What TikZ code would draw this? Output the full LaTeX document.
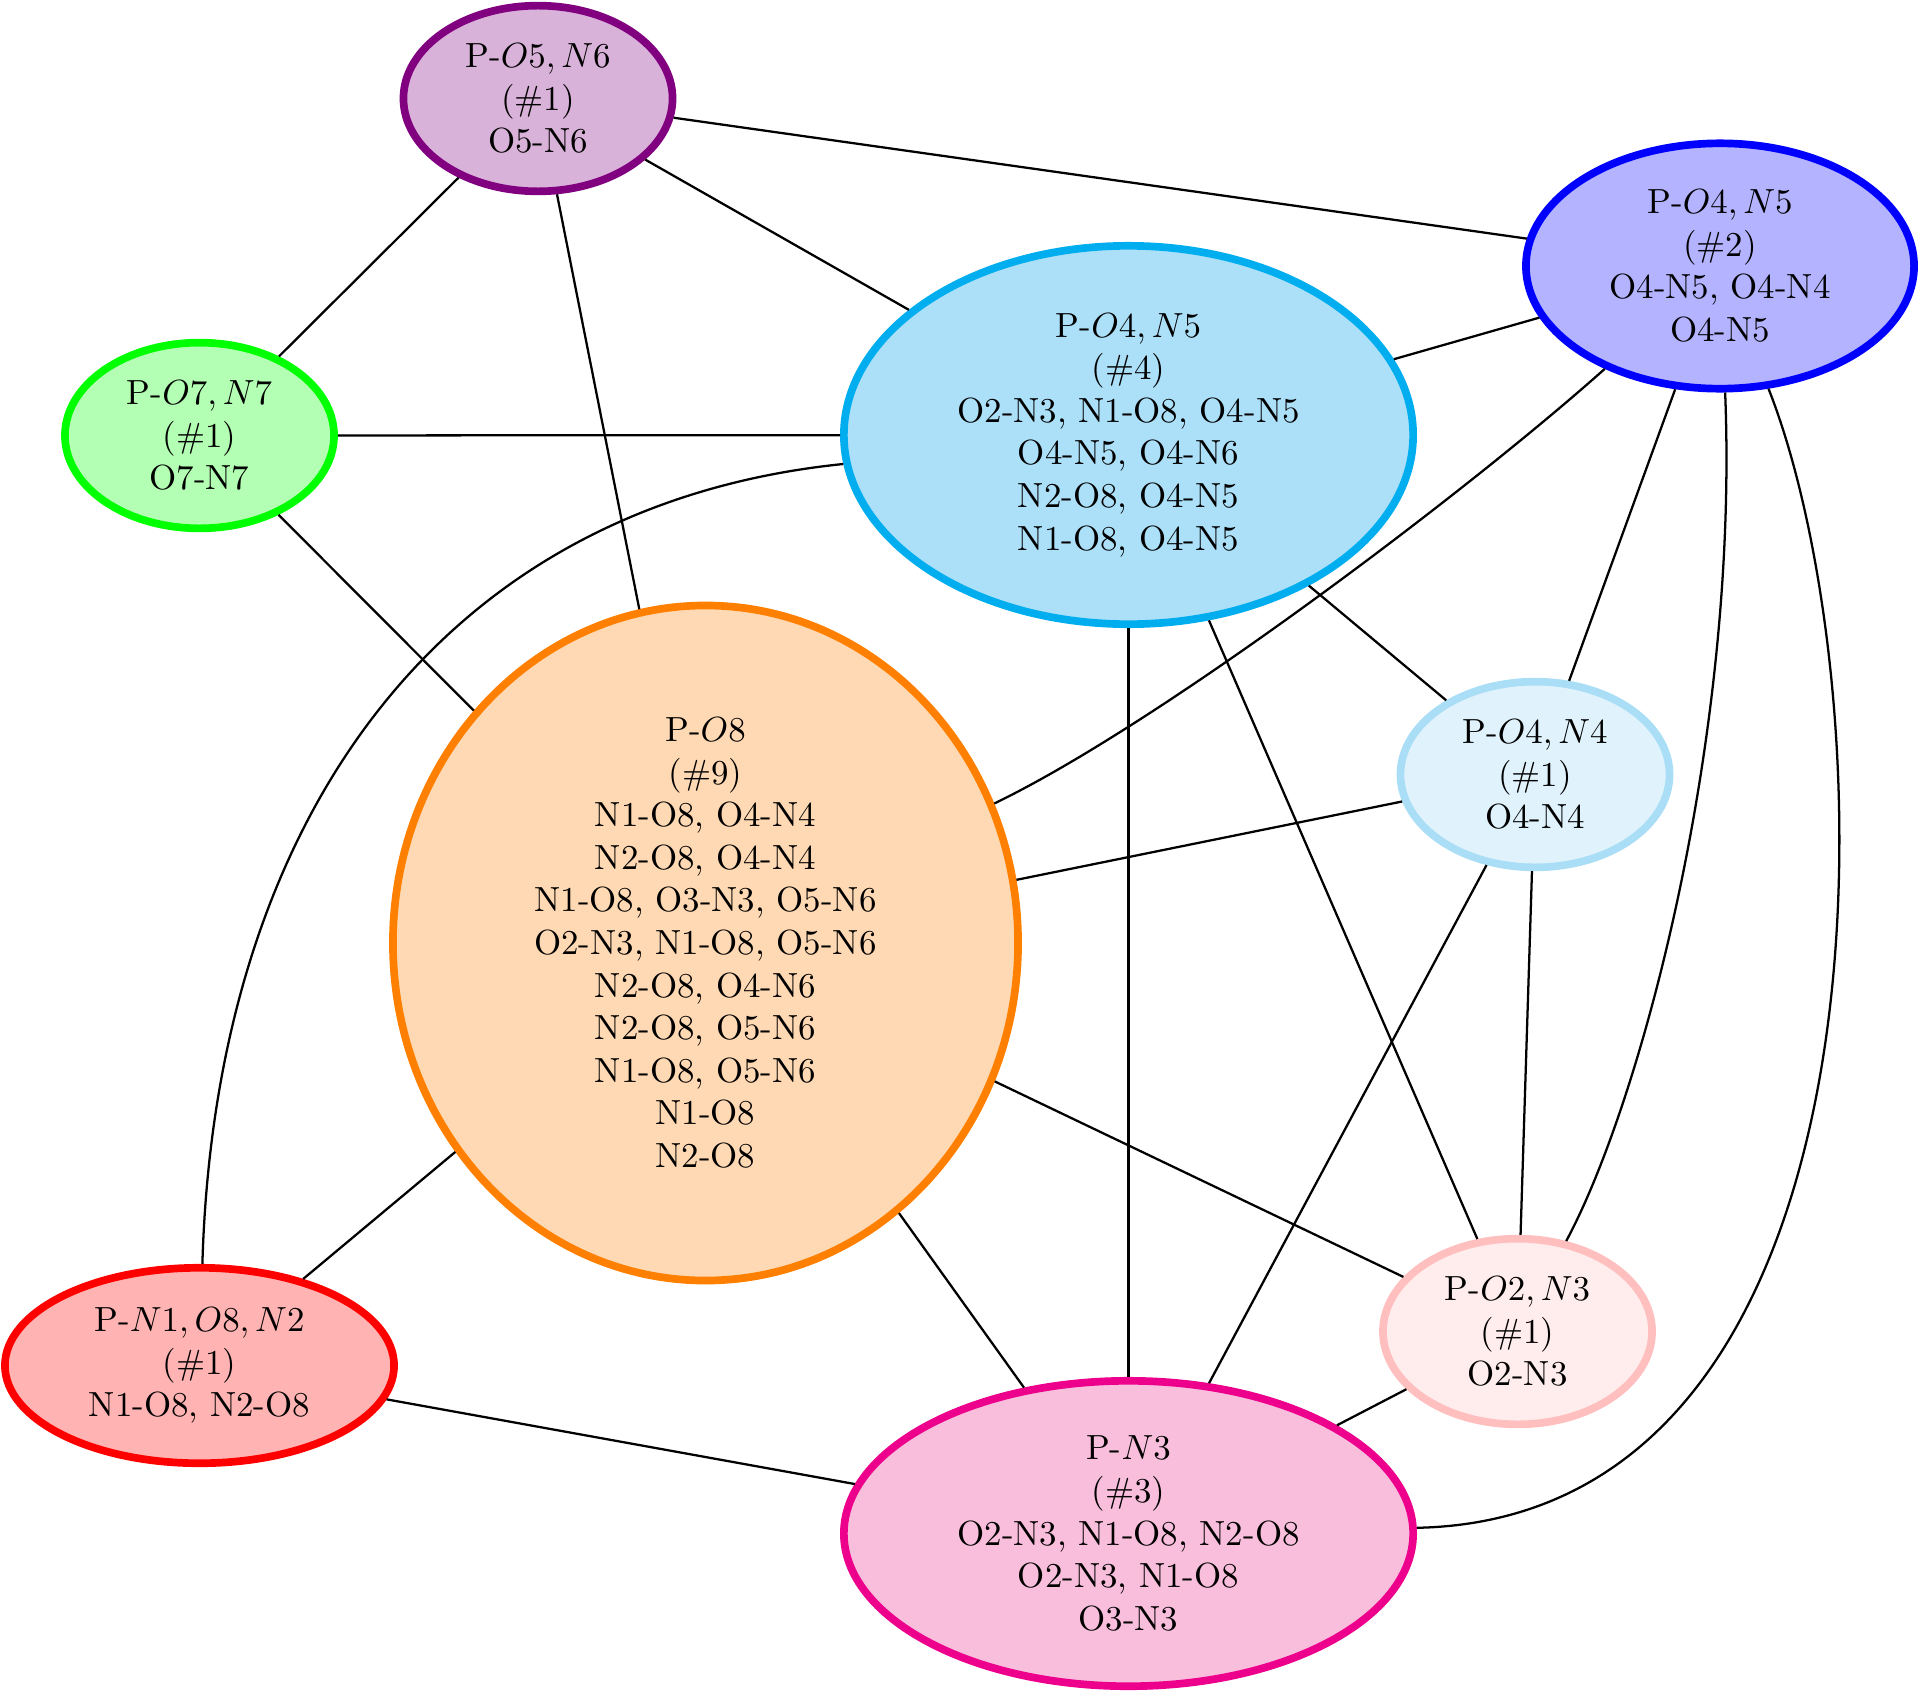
\documentclass[tikz,border=0pt]{standalone}
\usetikzlibrary{shapes.geometric}
\definecolor{cPurD}{RGB}{128,0,128}
\definecolor{cPurL}{RGB}{217,178,217}
\definecolor{cBluD}{RGB}{0,0,255}
\definecolor{cBluL}{RGB}{179,179,255}
\definecolor{cCyaD}{RGB}{0,174,239}
\definecolor{cCyaL}{RGB}{172,224,249}
\definecolor{cGreD}{RGB}{0,255,0}
\definecolor{cGreL}{RGB}{179,255,179}
\definecolor{cOraD}{RGB}{255,128,0}
\definecolor{cOraL}{RGB}{255,217,179}
\definecolor{cIceD}{RGB}{170,221,246}
\definecolor{cIceL}{RGB}{224,243,252}
\definecolor{cRedD}{RGB}{255,0,0}
\definecolor{cRedL}{RGB}{255,179,179}
\definecolor{cPinD}{RGB}{255,191,191}
\definecolor{cPinL}{RGB}{255,236,236}
\definecolor{cMagD}{RGB}{236,0,140}
\definecolor{cMagL}{RGB}{248,190,219}
\begin{document}
\begin{tikzpicture}[
  x=0.2865pt, y=-0.2865pt,
  blob/.style={ellipse, draw, line width=2.2pt, inner sep=0pt, align=center,
    font=\fontsize{10}{12.2}\selectfont},
  small/.style={blob, minimum width=77.1pt, minimum height=53.2pt},
  link/.style={line width=0.65pt, black}
]
\useasboundingbox (0,0) rectangle (1920,1693);

\node[small, draw=cPurD, fill=cPurL] (a) at (538,98.5) {P-$O5, N6$\\(\#1)\\O5-N6};
\node[blob, draw=cBluD, fill=cBluL, minimum width=111.2pt, minimum height=70.3pt] (b) at (1720,266)
  {P-$O4, N5$\\(\#2)\\O4-N5, O4-N4\\O4-N5};
\node[blob, draw=cCyaD, fill=cCyaL, minimum width=163.1pt, minimum height=108.4pt] (c) at (1128.5,435)
  {P-$O4, N5$\\(\#4)\\O2-N3, N1-O8, O4-N5\\O4-N5, O4-N6\\N2-O8, O4-N5\\N1-O8, O4-N5};
\node[small, draw=cGreD, fill=cGreL] (d) at (199.5,435.5) {P-$O7, N7$\\(\#1)\\O7-N7};
\node[blob, draw=cOraD, fill=cOraL, minimum width=179.1pt, minimum height=193.4pt] (e) at (705.5,943)
  {P-$O8$\\(\#9)\\N1-O8, O4-N4\\N2-O8, O4-N4\\N1-O8, O3-N3, O5-N6\\O2-N3, N1-O8, O5-N6\\N2-O8, O4-N6\\N2-O8, O5-N6\\N1-O8, O5-N6\\N1-O8\\N2-O8};
\node[small, draw=cIceD, fill=cIceL] (f) at (1535,774.5) {P-$O4, N4$\\(\#1)\\O4-N4};
\node[blob, draw=cRedD, fill=cRedL, minimum width=111.5pt, minimum height=56pt] (g) at (199.5,1365.5)
  {P-$N1, O8, N2$\\(\#1)\\N1-O8, N2-O8};
\node[small, draw=cPinD, fill=cPinL] (h) at (1517.5,1331.5) {P-$O2, N3$\\(\#1)\\O2-N3};
\node[blob, draw=cMagD, fill=cMagL, minimum width=163.1pt, minimum height=87.5pt] (i) at (1128.5,1533.5)
  {P-$N3$\\(\#3)\\O2-N3, N1-O8, N2-O8\\O2-N3, N1-O8\\O3-N3};

\draw[link] (a) -- (b);
\draw[link] (a) -- (c);
\draw[link] (a) -- (d);
\draw[link] (a) -- (e);
\draw[link] (d) -- (c);
\draw[link] (d) -- (e);
\draw[link] (c) -- (b);
\draw[link] (b) -- (f);
\draw[link] (c) -- (i);
\draw[link] (c) -- (f);
\draw[link] (c) -- (h);
\draw[link] (e) -- (f);
\draw[link] (e) -- (h);
\draw[link] (e) -- (g);
\draw[link] (e) -- (i);
\draw[link] (f) -- (i);
\draw[link] (f) -- (h);
\draw[link] (g) -- (i);
\draw[link] (h) -- (i);
\draw[link] (b) .. controls (1469,490) and (1163,722) .. (e);
\draw[link] (b) .. controls (1739,735) and (1641,1102) .. (h);
\draw[link] (b) .. controls (1886,686) and (1910,1518) .. (i);
\draw[link] (c) .. controls (440,505) and (215,820) .. (g);
\end{tikzpicture}
\end{document}
